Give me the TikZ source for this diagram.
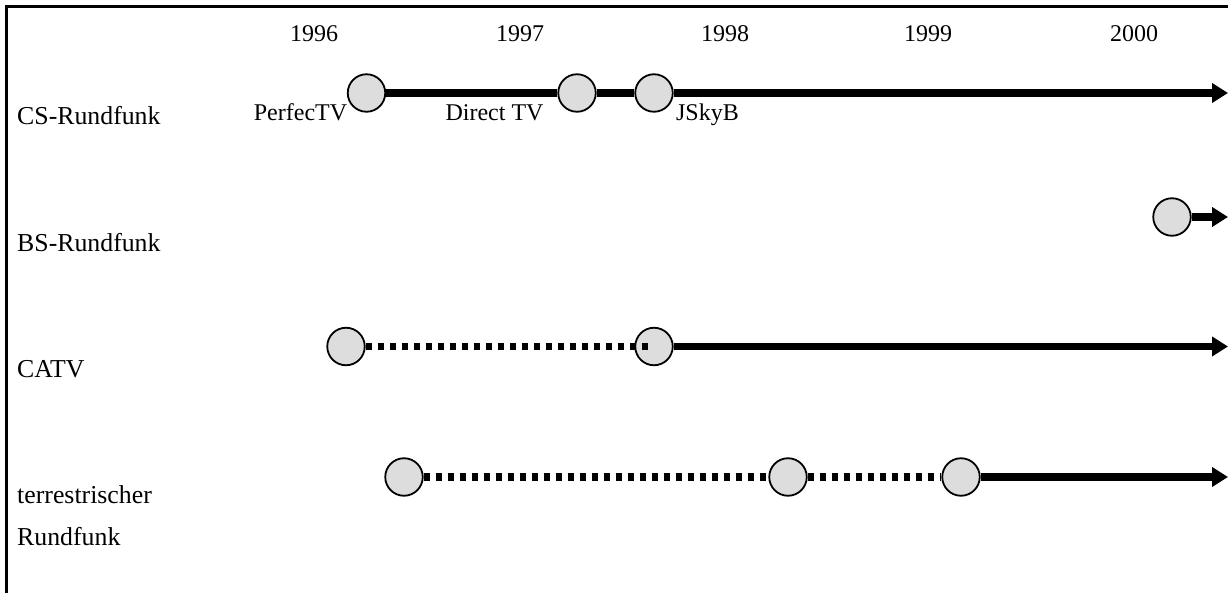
\documentclass[tikz,border=0pt]{standalone}
\usepackage{fontspec}
\setmainfont{Liberation Serif}
\usetikzlibrary{arrows.meta}
\definecolor{dotfill}{HTML}{DDDDDD}
\begin{document}
\begin{tikzpicture}[x=1pt,y=-1pt,
  event/.style={circle,draw=black,line width=1.8pt,fill=dotfill,minimum size=37.5pt,inner sep=0pt},
  solidline/.style={line width=7.5pt,black},
  dotline/.style={line width=7.5pt,black,dash pattern=on 6pt off 6pt},
  arrowline/.style={solidline,-{Triangle[length=16pt,width=19pt]}},
  year/.style={font=\fontsize{24}{28}\selectfont,anchor=base,inner sep=0pt},
  evlabel/.style={font=\fontsize{24}{28}\selectfont,anchor=base,inner sep=0pt},
  rowlabel/.style={font=\fontsize{25.8}{30}\selectfont,anchor=base west,inner sep=0pt}]
\path[use as bounding box] (0,0) rectangle (1228,593);
\draw[line width=3.5pt] (1228,6.5) -- (6.5,6.5) -- (6.5,593);
% years
\node[year] (y1996) at (314,42) {1996};
\node[year] (y1997) at (520,42) {1997};
\node[year] (y1998) at (725,42) {1998};
\node[year] (y1999) at (928,42) {1999};
\node[year] (y2000) at (1134,42) {2000};
% row labels
\node[rowlabel] (lcs) at (17,125) {CS-Rundfunk};
\node[rowlabel] (lbs) at (17,252) {BS-Rundfunk};
\node[rowlabel] (lcatv) at (17,377) {CATV};
\node[rowlabel] (lter1) at (17,503) {terrestrischer};
\node[rowlabel] (lter2) at (17,545) {Rundfunk};
% CS row
\node[event] (cs1) at (366.5,93) {};
\node[event] (cs2) at (577,93) {};
\node[event] (cs3) at (654,93) {};
\coordinate (csend) at (1228,93);
\draw[solidline] (cs1) -- (cs2);
\draw[solidline] (cs2) -- (cs3);
\draw[arrowline] (cs3) -- (csend);
\node[evlabel] (perfec) at (300.5,121) {PerfecTV};
\node[evlabel] (direct) at (494.5,121) {Direct TV};
\node[evlabel] (jsky) at (707.5,121) {JSkyB};
% BS row
\node[event] (bs1) at (1172,217) {};
\coordinate (bsend) at (1228,217);
\draw[arrowline] (bs1) -- (bsend);
% CATV row
\node[event] (ca1) at (346,346.5) {};
\node[event] (ca2) at (654,346.5) {};
\coordinate (caend) at (1228,346.5);
\draw[dotline] (ca1) -- ([xshift=-6pt]ca2.center);
\draw[arrowline] (ca2) -- (caend);
% terrestrial row
\node[event] (te1) at (404,477) {};
\node[event] (te2) at (788,477) {};
\node[event] (te3) at (961,477) {};
\coordinate (teend) at (1228,477);
\draw[dotline] (te1) -- (te2);
\draw[dotline] (te2) -- (te3);
\draw[arrowline] (te3) -- (teend);
\end{tikzpicture}
\end{document}
